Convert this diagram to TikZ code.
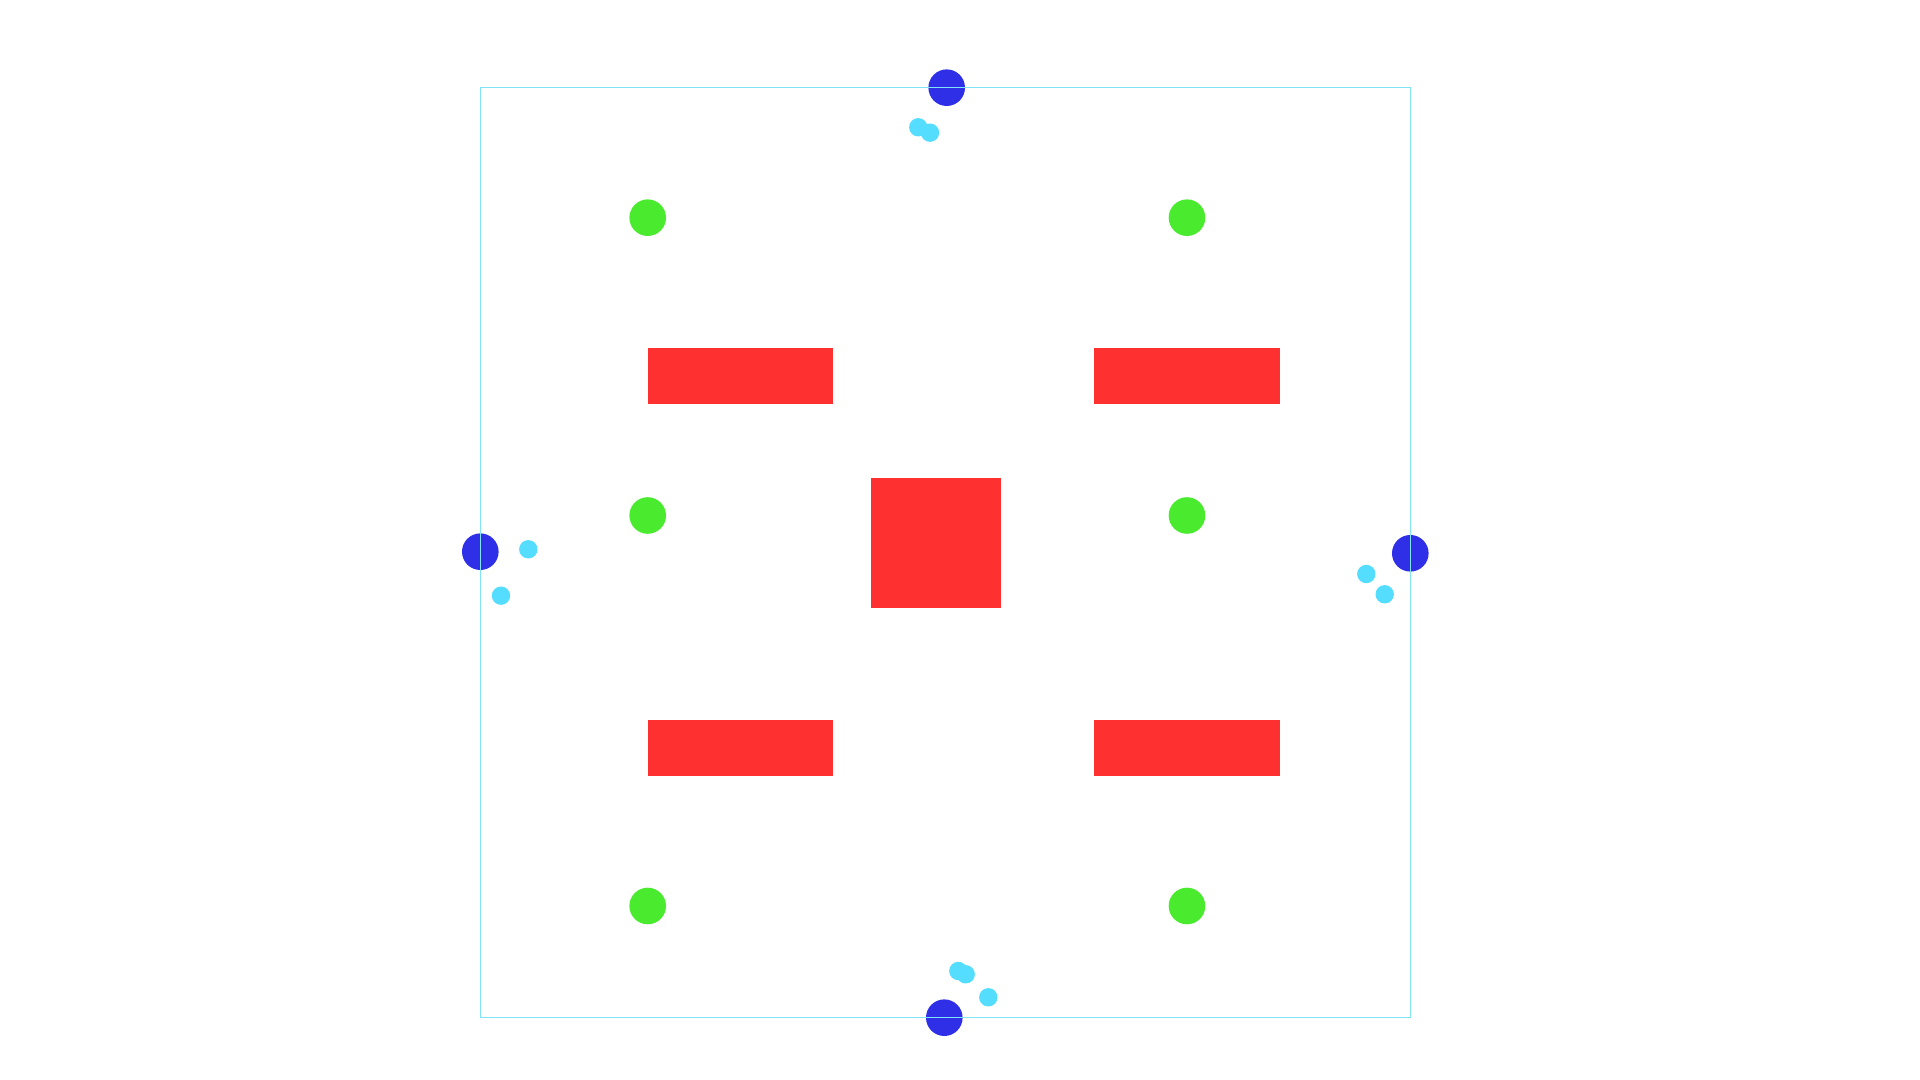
\documentclass[tikz,border=0pt]{standalone}
\definecolor{bluedot}{HTML}{2F2FE8}
\definecolor{greendot}{HTML}{4AEB2F}
\definecolor{redbox}{HTML}{FF3030}
\definecolor{cyandot}{HTML}{55DDFF}
\definecolor{frame}{HTML}{80E4F4}
\begin{document}
\begin{tikzpicture}[x=0.01cm,y=-0.01cm,
  bigdot/.style={circle,fill=bluedot,draw=none,inner sep=0pt,minimum size=0.366cm},
  gdot/.style={circle,fill=greendot,draw=none,inner sep=0pt,minimum size=0.366cm},
  cdot/.style={circle,fill=cyandot,draw=none,inner sep=0pt,minimum size=0.184cm},
  redrect/.style={fill=redbox,draw=none}]
\useasboundingbox (0,0) rectangle (1920,1080);
% red blocks
\fill[redrect] (647.7,348.3) rectangle (833.3,403.7);
\fill[redrect] (1094.3,348.3) rectangle (1280,403.7);
\fill[redrect] (647.7,720) rectangle (833.3,776);
\fill[redrect] (1094.3,720) rectangle (1280,776);
\fill[redrect] (871,478.3) rectangle (1001,608.3);
% green dots
\node[gdot] (g1) at (647.7,217.7) {};
\node[gdot] (g2) at (1187,217.7) {};
\node[gdot] (g3) at (647.7,515.5) {};
\node[gdot] (g4) at (1187,515.5) {};
\node[gdot] (g5) at (647.7,906) {};
\node[gdot] (g6) at (1187,906) {};
% cyan dots
\node[cdot] (c1) at (918.3,127.3) {};
\node[cdot] (c2) at (930,132.7) {};
\node[cdot] (c3) at (528.3,549.3) {};
\node[cdot] (c4) at (501,595.7) {};
\node[cdot] (c5) at (958.3,971) {};
\node[cdot] (c6) at (965.7,974.3) {};
\node[cdot] (c7) at (988.3,997.3) {};
\node[cdot] (c8) at (1366.3,574) {};
\node[cdot] (c9) at (1384.7,594.3) {};
% blue dots
\node[bigdot] (bt) at (946.7,87.7) {};
\node[bigdot] (bl) at (480.3,551.7) {};
\node[bigdot] (bb) at (944.3,1017.7) {};
\node[bigdot] (br) at (1410.3,553.3) {};
% frame
\draw[frame,line width=0.01cm] (480.3,87.3) rectangle (1410.3,1017.3);
\end{tikzpicture}
\end{document}
